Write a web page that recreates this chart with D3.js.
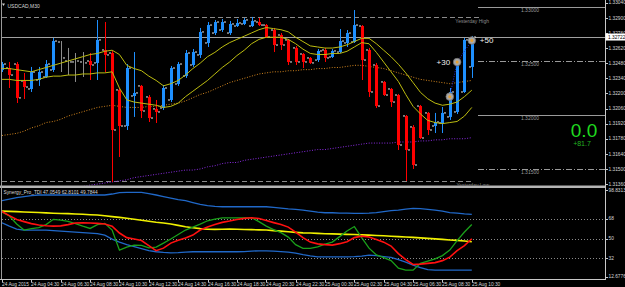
<!DOCTYPE html>
<html>

<head>
  <meta charset="utf-8">
  <title>USDCAD,M30</title>
  <script type="text/javascript" src="https://cdn.jsdelivr.net/npm/d3@7"></script>
  <style type="text/css">
    body { margin: 0; background: #000; }
    svg { display: block; }
    text { font-family: "Liberation Sans", Arial, sans-serif; }
  </style>
</head>

<body>
  <script type="text/javascript">

    // Time axis: bar index of each label
    const tickBars = [0, 4, 8, 12, 16, 20, 24, 28, 32, 36, 40, 44, 48, 52, 56, 60, 64];
    const tickLabels = ["24 Aug 2015", "24 Aug 04:30", "24 Aug 06:30", "24 Aug 08:30", "24 Aug 10:30",
      "24 Aug 12:30", "24 Aug 14:30", "24 Aug 16:30", "24 Aug 18:30", "24 Aug 20:30", "24 Aug 22:30",
      "25 Aug 00:30", "25 Aug 02:30", "25 Aug 04:30", "25 Aug 06:30", "25 Aug 08:30", "25 Aug 10:30"];

    // Price axis labels
    const priceTicks = [1.3304, 1.3290, 1.3276, 1.3262, 1.3248, 1.3234, 1.3220, 1.3206, 1.3192, 1.3178, 1.3164, 1.3150, 1.3136];

    // M30 bars
    const opens = [1.32417, 1.32435, 1.32472, 1.32315, 1.32241, 1.32324, 1.32352, 1.32417, 1.32676, 1.32500,
      1.32491, 1.32491, 1.32500, 1.32482, 1.32602, 1.32574, 1.32232, 1.31898, 1.32176, 1.32269,
      1.32167, 1.32056, 1.32065, 1.32139, 1.32287, 1.32361, 1.32463, 1.32556, 1.32667, 1.32759,
      1.32787, 1.32759, 1.32824, 1.32843, 1.32824, 1.32861, 1.32833, 1.32787, 1.32741, 1.32695,
      1.32621, 1.32565, 1.32528, 1.32509, 1.32602, 1.32537, 1.32583, 1.32667, 1.32676, 1.32824,
      1.32602, 1.32463, 1.32306, 1.32241, 1.32185, 1.31991, 1.31889, 1.32083, 1.32019, 1.31898,
      1.31926, 1.31982, 1.32028, 1.32213, 1.32445];
    const highs = [1.32491, 1.32491, 1.32491, 1.32389, 1.32445, 1.32445, 1.32509, 1.32713, 1.32685, 1.32621,
      1.32574, 1.32583, 1.32574, 1.32880, 1.32861, 1.32593, 1.32250, 1.32472, 1.32583, 1.32278,
      1.32185, 1.32139, 1.32278, 1.32454, 1.32491, 1.32602, 1.32611, 1.32806, 1.32861, 1.32880,
      1.32889, 1.32871, 1.32889, 1.32898, 1.32908, 1.32898, 1.32843, 1.32806, 1.32759, 1.32704,
      1.32639, 1.32574, 1.32537, 1.32611, 1.32621, 1.32611, 1.32796, 1.32787, 1.32972, 1.32833,
      1.32621, 1.32482, 1.32315, 1.32250, 1.32195, 1.32000, 1.31907, 1.32093, 1.32028, 1.32019,
      1.32074, 1.32250, 1.32509, 1.32713, 1.32732];
    const lows = [1.32398, 1.32250, 1.32111, 1.32148, 1.32213, 1.32269, 1.32343, 1.32398, 1.32398, 1.32370,
      1.32306, 1.32352, 1.32324, 1.32324, 1.32398, 1.31380, 1.31611, 1.31861, 1.31982, 1.31972,
      1.31935, 1.31926, 1.32046, 1.32120, 1.32269, 1.32343, 1.32445, 1.32528, 1.32630, 1.32741,
      1.32769, 1.32741, 1.32815, 1.32833, 1.32815, 1.32824, 1.32713, 1.32583, 1.32602, 1.32463,
      1.32463, 1.32435, 1.32472, 1.32491, 1.32491, 1.32528, 1.32574, 1.32630, 1.32667, 1.32324,
      1.32167, 1.32065, 1.32176, 1.32074, 1.31676, 1.31389, 1.31500, 1.31778, 1.31815, 1.31833,
      1.31833, 1.31954, 1.32009, 1.32204, 1.32343];
    const closes = [1.32472, 1.32370, 1.32158, 1.32259, 1.32398, 1.32398, 1.32472, 1.32685, 1.32528, 1.32491,
      1.32500, 1.32482, 1.32463, 1.32695, 1.32556, 1.31861, 1.31898, 1.32435, 1.32204, 1.32037,
      1.31972, 1.32028, 1.32250, 1.32435, 1.32472, 1.32574, 1.32583, 1.32769, 1.32833, 1.32861,
      1.32861, 1.32843, 1.32852, 1.32880, 1.32871, 1.32833, 1.32722, 1.32648, 1.32648, 1.32491,
      1.32491, 1.32491, 1.32482, 1.32593, 1.32528, 1.32593, 1.32685, 1.32759, 1.32833, 1.32509,
      1.32213, 1.32083, 1.32185, 1.32120, 1.31722, 1.31676, 1.31537, 1.31787, 1.31861, 1.31935,
      1.32019, 1.32213, 1.32491, 1.32695, 1.32722];
    // trend state painted on each bar: 1 up, -1 down, 0 none
    const trend = [1, -1, -1, -1, 1, 1, 1, 1, 0, 0,
      0, 0, -1, 1, -1, -1, -1, 1, 1, -1,
      -1, -1, 1, 1, 1, 1, 1, 1, 1, 1,
      1, 1, 1, 1, 1, -1, -1, -1, -1, -1,
      -1, -1, -1, 1, -1, 1, 1, 1, 1, -1,
      -1, -1, -1, -1, -1, -1, -1, -1, -1, 1,
      1, 1, 1, 1, 1];

    // Price overlays
    const bandUpper = [1.3243, 1.3243, 1.3242, 1.3241, 1.3240, 1.3242, 1.3244, 1.3246, 1.3248, 1.3250,
      1.3252, 1.3254, 1.3256, 1.3257, 1.3259, 1.3260, 1.3256, 1.3246, 1.3243, 1.3241,
      1.3236, 1.3232, 1.3227, 1.3229, 1.3232, 1.3237, 1.3243, 1.3248, 1.3254, 1.3258,
      1.3263, 1.3267, 1.3270, 1.3273, 1.3276, 1.3279, 1.3281, 1.3280, 1.3279, 1.3277,
      1.3272, 1.3268, 1.3264, 1.3263, 1.3262, 1.3262, 1.3263, 1.3265, 1.3268, 1.3271,
      1.3271, 1.3266, 1.3260, 1.3254, 1.3247, 1.3239, 1.3230, 1.3221, 1.3215, 1.3211,
      1.3209, 1.3210, 1.3212, 1.3217, 1.3223];
    const bandLower = [1.3233, 1.3233, 1.3232, 1.3232, 1.3232, 1.3233, 1.3235, 1.3236, 1.3236, 1.3237,
      1.3237, 1.3238, 1.3238, 1.3239, 1.3239, 1.3240, 1.3225, 1.3214, 1.3212, 1.3211,
      1.3210, 1.3209, 1.3207, 1.3208, 1.3211, 1.3217, 1.3222, 1.3227, 1.3232, 1.3238,
      1.3244, 1.3249, 1.3255, 1.3260, 1.3266, 1.3270, 1.3272, 1.3272, 1.3272, 1.3270,
      1.3266, 1.3261, 1.3257, 1.3256, 1.3256, 1.3257, 1.3257, 1.3259, 1.3263, 1.3267,
      1.3266, 1.3258, 1.3249, 1.3240, 1.3231, 1.3219, 1.3208, 1.3201, 1.3195, 1.3193,
      1.3192, 1.3193, 1.3194, 1.3199, 1.3207];
    const maSlow = [1.3181, 1.3182, 1.3183, 1.3185, 1.3188, 1.3190, 1.3193, 1.3194, 1.3196, 1.3199,
      1.3201, 1.3203, 1.3205, 1.3207, 1.3208, 1.3209, 1.3208, 1.3207, 1.3207, 1.3207,
      1.3208, 1.3208, 1.3209, 1.3210, 1.3211, 1.3213, 1.3216, 1.3219, 1.3221, 1.3224,
      1.3227, 1.3230, 1.3232, 1.3234, 1.3236, 1.3238, 1.3239, 1.3240, 1.3240, 1.3241,
      1.3241, 1.3242, 1.3242, 1.3243, 1.3243, 1.3244, 1.3244, 1.3245, 1.3246, 1.3246,
      1.3245, 1.3244, 1.3243, 1.3241, 1.3239, 1.3237, 1.3235, 1.3233, 1.3232, 1.3231,
      1.3230, 1.3229, 1.3230, 1.3231, 1.3232];
    const maLong = [1.3121, 1.3122, 1.3123, 1.3125, 1.3126, 1.3128, 1.3129, 1.3130, 1.3131, 1.3132,
      1.3133, 1.3134, 1.3135, 1.3136, 1.3137, 1.3138, 1.3139, 1.3140, 1.3142, 1.3143,
      1.3144, 1.3145, 1.3146, 1.3147, 1.3148, 1.3149, 1.3149, 1.3150, 1.3152, 1.3153,
      1.3155, 1.3156, 1.3156, 1.3158, 1.3159, 1.3160, 1.3161, 1.3162, 1.3163, 1.3164,
      1.3165, 1.3166, 1.3167, 1.3168, 1.3168, 1.3169, 1.3170, 1.3171, 1.3172, 1.3173,
      1.3174, 1.3174, 1.3174, 1.3174, 1.3175, 1.3175, 1.3175, 1.3176, 1.3176, 1.3177,
      1.3177, 1.3178, 1.3178, 1.3178, 1.3179];

    // Entry markers
    const markerBars = [61, 62, 64];
    const markerPrices = [1.3217, 1.3249, 1.3269];
    const markerLabels = ["", "+30", "+50"];

    // Horizontal levels
    const roundLevels = [1.33000, 1.32500, 1.32000, 1.31500];
    const roundDashed = [false, true, false, true];
    const yesterdayHigh = 1.32908;
    const yesterdayLow = 1.31389;
    const lastPrice = 1.32722;
    const pipsBig = "0.0";
    const pipsSmall = "+81.7";

    // Synergy_Pro_TDI sub window
    const tdiUpper = [84.6, 86.0, 87.4, 88.3, 89.2, 89.7, 89.7, 89.7, 89.7, 89.7,
      89.7, 89.7, 89.7, 89.7, 89.7, 90.6, 91.9, 92.1, 92.1, 92.1,
      91.0, 89.7, 88.3, 86.9, 85.5, 84.5, 82.8, 81.2, 80.1, 79.3,
      79.0, 79.0, 79.0, 79.0, 79.0, 79.0, 79.0, 78.5, 77.8, 77.0,
      76.6, 75.9, 75.0, 74.1, 73.5, 73.5, 73.2, 73.2, 72.9, 72.9,
      73.2, 73.7, 74.6, 75.5, 75.9, 76.9, 77.5, 77.3, 76.6, 75.9,
      75.0, 73.7, 73.2, 72.5, 72.0];
    const tdiMid = [75.0, 74.8, 74.5, 74.2, 73.9, 73.7, 73.4, 73.1, 72.8, 72.7,
      72.4, 72.1, 71.7, 71.4, 70.7, 70.0, 69.3, 68.5, 67.5, 66.6,
      65.7, 64.8, 64.1, 63.2, 62.0, 60.7, 59.8, 59.0, 58.4, 58.3,
      58.5, 58.6, 58.4, 58.2, 58.1, 57.9, 57.7, 57.2, 56.7, 56.1,
      55.6, 55.1, 55.0, 54.7, 54.4, 54.2, 54.0, 53.8, 53.6, 53.3,
      53.1, 52.8, 52.5, 52.1, 51.7, 51.4, 51.0, 50.6, 50.1, 49.7,
      49.2, 48.7, 48.3, 47.7, 47.0549];
    const tdiLower = [64.4, 61.3, 58.6, 57.7, 57.7, 57.7, 57.7, 57.2, 56.8, 56.3,
      55.9, 55.4, 55.0, 54.5, 53.1, 49.5, 46.7, 44.4, 42.6, 40.8,
      38.9, 37.9, 37.3, 36.9, 37.1, 37.6, 37.9, 37.9, 37.9, 37.9,
      37.9, 37.9, 37.9, 38.0, 38.5, 38.8, 38.8, 38.5, 38.0, 37.6,
      36.7, 35.3, 34.1, 33.3, 33.3, 33.3, 33.3, 33.3, 33.5, 33.9,
      34.8, 34.4, 33.5, 32.7, 30.7, 28.4, 25.7, 23.4, 21.6, 21.1,
      21.1, 21.1, 21.1, 21.1, 21.1];
    const tdiRsi = [74.1, 70.5, 63.2, 57.7, 59.0, 60.0, 62.7, 67.5, 66.8, 65.7,
      63.6, 61.3, 59.2, 62.7, 63.8, 57.7, 39.4, 42.1, 44.0, 43.7,
      41.4, 42.1, 45.8, 49.6, 53.6, 57.7, 60.4, 63.2, 66.2, 67.7,
      68.9, 68.9, 68.9, 68.9, 68.9, 65.4, 61.3, 58.1, 55.4, 51.3,
      44.4, 41.0, 41.0, 42.3, 44.9, 46.7, 51.7, 56.8, 60.9, 50.8,
      41.2, 35.0, 32.6, 29.8, 23.0, 21.1, 21.1, 27.3, 29.4, 31.5,
      34.4, 39.4, 48.1, 55.9, 62.8101];
    const tdiSignal = [74.6, 70.9, 67.3, 65.4, 63.6, 62.3, 61.6, 61.3, 61.5, 62.7,
      64.1, 64.3, 64.1, 63.8, 63.2, 61.3, 55.0, 50.8, 49.5, 48.1,
      43.5, 38.9, 41.2, 45.8, 48.5, 50.4, 53.1, 57.7, 60.4, 62.7,
      64.7, 65.9, 67.3, 68.4, 68.9, 68.2, 66.4, 64.5, 62.7, 60.4,
      55.9, 50.8, 46.7, 45.1, 44.4, 44.0, 45.3, 47.0, 50.8, 52.2,
      51.3, 49.0, 46.7, 43.1, 36.2, 30.7, 26.3, 26.6, 27.3, 28.0,
      29.8, 33.0, 38.9, 43.5, 49.7844];
    const tdiLevels = [68, 50, 32];
    const tdiMax = 98.8313;
    const tdiMin = 12.6776;

    // Width and height
    const w = 625;
    const h = 287;
    const left = 2;
    const right = 605;
    const mainBottom = 185.5;
    const subTop = 188;
    const subBottom = 279.5;

    // Scales
    const x = d3.scaleLinear().domain([0, 64]).range([2, 471.8]);
    const y = d3.scaleLinear().domain([1.3136, 1.3304]).range([184.1, 2.7]);
    const yi = d3.scaleLinear().domain([tdiMin, tdiMax]).range([279.4, 185]);

    const upColor = "#1e90ff";
    const downColor = "#ff0000";
    const flatColor = "#8c8c8c";
    const barColor = t => t > 0 ? upColor : (t < 0 ? downColor : flatColor);

    // Create SVG element
    const svg = d3.select("body")
      .append("svg")
      .attr("width", w)
      .attr("height", h);

    svg.append("rect").attr("width", w).attr("height", h).attr("fill", "#000");

    const defs = svg.append("defs");
    defs.append("clipPath").attr("id", "mainClip")
      .append("rect").attr("x", left).attr("y", 0).attr("width", right - left).attr("height", mainBottom);
    defs.append("clipPath").attr("id", "subClip")
      .append("rect").attr("x", left).attr("y", subTop).attr("width", right - left).attr("height", subBottom - subTop);

    const main = svg.append("g").attr("clip-path", "url(#mainClip)");
    const sub = svg.append("g").attr("clip-path", "url(#subClip)");

    // ---- main window ----

    // round number levels on the right
    roundLevels.forEach(function (lv, i) {
      main.append("line")
        .attr("x1", 478).attr("x2", right)
        .attr("y1", Math.round(y(lv)) + 0.5).attr("y2", Math.round(y(lv)) + 0.5)
        .attr("stroke", "#9a9a9a")
        .attr("stroke-width", 1)
        .attr("stroke-dasharray", roundDashed[i] ? "6,2,1,2" : null);
      main.append("text")
        .attr("x", 530).attr("y", y(lv) + 5)
        .attr("text-anchor", "middle")
        .attr("font-size", 5)
        .attr("fill", "#9a9a9a")
        .text(lv.toFixed(5));
    });

    // yesterday high / low
    [[yesterdayHigh, "Yesterday High", 482], [yesterdayLow, "Yesterday Low", 472]].forEach(function (d) {
      main.append("line")
        .attr("x1", left).attr("x2", d[2])
        .attr("y1", Math.round(y(d[0])) + 0.5).attr("y2", Math.round(y(d[0])) + 0.5)
        .attr("stroke", "#8a8a8a")
        .attr("stroke-dasharray", "5,3");
      main.append("text")
        .attr("x", 489).attr("y", y(d[0]) + 6)
        .attr("text-anchor", "end")
        .attr("font-size", 5)
        .attr("fill", "#8a8a8a")
        .text(d[1]);
    });

    // current price line
    main.append("line")
      .attr("x1", left).attr("x2", right)
      .attr("y1", Math.round(y(lastPrice)) + 0.5).attr("y2", Math.round(y(lastPrice)) + 0.5)
      .attr("stroke", "#a0a0a0");

    // slow moving averages
    const priceLine = d3.line().x((d, i) => x(i)).y(d => y(d));
    main.append("path").attr("d", priceLine(maLong))
      .attr("fill", "none").attr("stroke", "#8a2be2").attr("stroke-dasharray", "1,1.6");
    main.append("path").attr("d", priceLine(maSlow))
      .attr("fill", "none").attr("stroke", "#d2851e").attr("stroke-dasharray", "1,1.6");

    // bars
    const bars = main.append("g");
    opens.forEach(function (o, i) {
      const c = closes[i];
      const col = barColor(trend[i]);
      const cx = Math.round(x(i)) + 0.5;
      bars.append("line")
        .attr("x1", cx).attr("x2", cx)
        .attr("y1", y(highs[i])).attr("y2", y(lows[i]))
        .attr("stroke", col);
      if (trend[i] !== 0) {
        bars.append("rect")
          .attr("x", cx - 1.5)
          .attr("y", Math.min(y(o), y(c)))
          .attr("width", 3)
          .attr("height", Math.max(1.5, Math.abs(y(o) - y(c))))
          .attr("fill", col);
      }
      // open / close ticks
      bars.append("line")
        .attr("x1", cx - 3.5).attr("x2", cx - 1.5)
        .attr("y1", y(o)).attr("y2", y(o))
        .attr("stroke", "#e8e8e8");
      bars.append("line")
        .attr("x1", cx + 1.5).attr("x2", cx + 3.5)
        .attr("y1", y(c)).attr("y2", y(c))
        .attr("stroke", "#e8e8e8");
    });

    // envelope bands
    main.append("path").attr("d", priceLine(bandUpper))
      .attr("fill", "none").attr("stroke", "#bcbc10").attr("stroke-width", 1);
    main.append("path").attr("d", priceLine(bandLower))
      .attr("fill", "none").attr("stroke", "#bcbc10").attr("stroke-width", 1);

    // markers joined by a dotted line
    const markerLine = d3.line().x(d => x(d[0])).y(d => y(d[1]));
    main.append("path")
      .attr("d", markerLine(markerBars.map((b, i) => [b, markerPrices[i]])))
      .attr("fill", "none").attr("stroke", "#2a2ad0").attr("stroke-dasharray", "1,1.5");
    markerBars.forEach(function (b, i) {
      main.append("circle")
        .attr("cx", x(b)).attr("cy", y(markerPrices[i])).attr("r", 3.8)
        .attr("fill", "#a8a8a8").attr("stroke", "#707070").attr("stroke-width", 0.8);
      main.append("circle")
        .attr("cx", x(b)).attr("cy", y(markerPrices[i])).attr("r", 1.5)
        .attr("fill", "#e8a030");
    });
    main.append("text")
      .attr("x", x(markerBars[1]) - 7).attr("y", y(markerPrices[1]) + 3)
      .attr("text-anchor", "end").attr("font-size", 8).attr("fill", "#f0f0f0")
      .text(markerLabels[1]);
    main.append("text")
      .attr("x", x(markerBars[2]) + 8).attr("y", y(markerPrices[2]) + 3)
      .attr("font-size", 8).attr("fill", "#f0f0f0")
      .text(markerLabels[2]);

    // pips counter
    main.append("text")
      .attr("x", 584).attr("y", 137)
      .attr("text-anchor", "middle").attr("font-size", 19).attr("fill", "#1fd81f")
      .text(pipsBig);
    main.append("text")
      .attr("x", 582).attr("y", 146)
      .attr("text-anchor", "middle").attr("font-size", 7).attr("fill", "#22b422")
      .text(pipsSmall);

    // title
    svg.append("path").attr("d", "M2,3.5 L5,3.5 L3.5,6 Z").attr("fill", "#d0d0d0");
    svg.append("text")
      .attr("x", 7.5).attr("y", 7.5)
      .attr("font-size", 5).attr("fill", "#d8d8d8")
      .text("USDCAD,M30");

    // ---- TDI window ----
    tdiLevels.forEach(function (lv) {
      sub.append("line")
        .attr("x1", left).attr("x2", right)
        .attr("y1", Math.round(yi(lv)) + 0.5).attr("y2", Math.round(yi(lv)) + 0.5)
        .attr("stroke", "#8a8a8a").attr("stroke-dasharray", "1,2");
    });

    const tdiLine = d3.line().x((d, i) => x(i)).y(d => yi(d));
    [[tdiUpper, "#2068c8", 1.3], [tdiLower, "#2068c8", 1.3], [tdiMid, "#f0f000", 1.6],
     [tdiRsi, "#1aa01a", 1.3], [tdiSignal, "#ff1010", 1.6]].forEach(function (s) {
      sub.append("path").attr("d", tdiLine(s[0]))
        .attr("fill", "none").attr("stroke", s[1]).attr("stroke-width", s[2]);
    });

    svg.append("text")
      .attr("x", 3.5).attr("y", 193.5)
      .attr("font-size", 4.8).attr("fill", "#d8d8d8")
      .text("Synergy_Pro_TDI " + tdiMid[64].toFixed(4) + " " + tdiRsi[64].toFixed(4) + " " + tdiSignal[64].toFixed(4));

    // ---- frame and axes ----
    svg.append("rect")
      .attr("x", 0).attr("y", mainBottom).attr("width", right + 1).attr("height", 2.5)
      .attr("fill", "#b4b4b4");
    svg.append("line")
      .attr("x1", 1.5).attr("x2", 1.5).attr("y1", 0).attr("y2", subBottom)
      .attr("stroke", "#9a9a9a");
    svg.append("line")
      .attr("x1", right + 0.5).attr("x2", right + 0.5).attr("y1", 0).attr("y2", subBottom + 0.5)
      .attr("stroke", "#c8c8c8");
    svg.append("line")
      .attr("x1", 0).attr("x2", right + 1).attr("y1", subBottom).attr("y2", subBottom)
      .attr("stroke", "#c8c8c8");

    // price axis
    const pAxis = svg.append("g");
    priceTicks.forEach(function (p) {
      pAxis.append("line")
        .attr("x1", right).attr("x2", right + 3)
        .attr("y1", Math.round(y(p)) + 0.5).attr("y2", Math.round(y(p)) + 0.5)
        .attr("stroke", "#c8c8c8");
      pAxis.append("text")
        .attr("x", right + 3.5).attr("y", y(p) + 1.7)
        .attr("font-size", 4.8).attr("fill", "#d8d8d8")
        .text(p.toFixed(5));
    });

    // last price tag
    pAxis.append("rect")
      .attr("x", right + 0.5).attr("y", y(lastPrice) - 3.5)
      .attr("width", 19.5).attr("height", 7)
      .attr("fill", "#ffffff");
    pAxis.append("text")
      .attr("x", right + 3).attr("y", y(lastPrice) + 1.8)
      .attr("font-size", 4.8).attr("fill", "#000")
      .text(lastPrice.toFixed(5));

    // TDI axis
    const tdiAxisLabels = [tdiMax.toFixed(4)].concat(tdiLevels.map(String)).concat([tdiMin.toFixed(4)]);
    const tdiAxisValues = [tdiMax].concat(tdiLevels).concat([tdiMin]);
    tdiAxisValues.forEach(function (v, i) {
      const yy = Math.min(Math.max(yi(v), 190), 276.5);
      pAxis.append("line")
        .attr("x1", right).attr("x2", right + 3)
        .attr("y1", Math.round(yy) + 0.5).attr("y2", Math.round(yy) + 0.5)
        .attr("stroke", "#c8c8c8");
      pAxis.append("text")
        .attr("x", right + 3.5).attr("y", yy + 1.7)
        .attr("font-size", 4.8).attr("fill", "#d8d8d8")
        .text(tdiAxisLabels[i]);
    });

    // time axis
    const tAxis = svg.append("g");
    tickBars.forEach(function (b, i) {
      const tx = Math.round(x(b)) + 0.5;
      tAxis.append("line")
        .attr("x1", tx).attr("x2", tx)
        .attr("y1", subBottom).attr("y2", subBottom + 3)
        .attr("stroke", "#c8c8c8");
      tAxis.append("text")
        .attr("x", tx - 0.5).attr("y", 285.5)
        .attr("font-size", 4.8).attr("fill", "#d8d8d8")
        .text(tickLabels[i]);
    });

  </script>
</body>

</html>
